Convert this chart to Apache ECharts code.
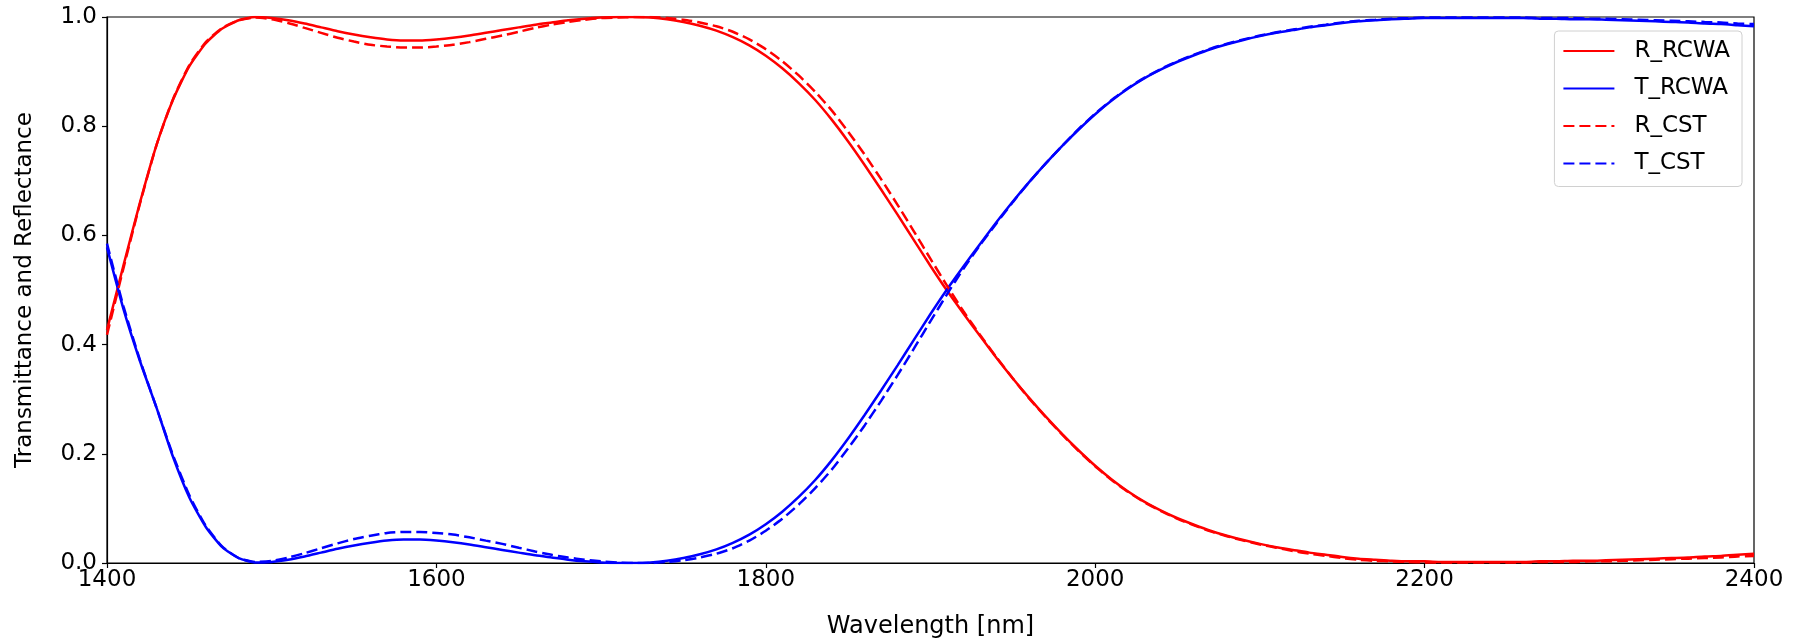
<!DOCTYPE html>
<html>
<head>
<meta charset="utf-8">
<script src="https://cdn.jsdelivr.net/npm/echarts@6/dist/echarts.min.js"></script>
<style>html,body{margin:0;padding:0;background:#fff}#c{width:1800px;height:639px}</style>
</head>
<body>
<div id="c"></div>
<script>
const wavelengths = [
1400,1410,1420,1430,1440,1450,1460,1470,1480,1490,
1500,1510,1520,1530,1540,1550,1560,1570,1580,1590,
1600,1610,1620,1630,1640,1650,1660,1670,1680,1690,
1700,1710,1720,1730,1740,1750,1760,1770,1780,1790,
1800,1810,1820,1830,1840,1850,1860,1870,1880,1890,
1900,1910,1920,1930,1940,1950,1960,1970,1980,1990,
2000,2010,2020,2030,2040,2050,2060,2070,2080,2090,
2100,2110,2120,2130,2140,2150,2160,2170,2180,2190,
2200,2210,2220,2230,2240,2250,2260,2270,2280,2290,
2300,2310,2320,2330,2340,2350,2360,2370,2380,2390,
2400];
const R_RCWA = [
0.427,0.545,0.660,0.765,0.848,0.910,0.952,0.979,0.994,1.000,
0.998,0.994,0.988,0.981,0.974,0.968,0.963,0.959,0.957,0.957,
0.959,0.962,0.966,0.971,0.976,0.981,0.986,0.990,0.994,0.997,
0.999,1.000,1.000,0.999,0.996,0.991,0.984,0.975,0.963,0.948,
0.929,0.906,0.879,0.848,0.812,0.772,0.729,0.684,0.638,0.591,
0.544,0.499,0.457,0.416,0.376,0.338,0.302,0.268,0.236,0.206,
0.178,0.153,0.131,0.112,0.096,0.082,0.070,0.059,0.050,0.042,
0.035,0.029,0.024,0.019,0.015,0.011,0.008,0.006,0.004,0.003,
0.003,0.002,0.002,0.002,0.002,0.002,0.002,0.003,0.003,0.004,
0.004,0.005,0.006,0.007,0.008,0.009,0.010,0.012,0.013,0.015,
0.017];
const T_RCWA = [
0.578,0.465,0.370,0.285,0.195,0.120,0.066,0.029,0.009,0.001,
0.002,0.006,0.012,0.019,0.026,0.032,0.037,0.041,0.043,0.043,
0.041,0.038,0.034,0.029,0.024,0.019,0.014,0.010,0.006,0.003,
0.001,0.000,0.000,0.001,0.004,0.009,0.016,0.025,0.037,0.052,
0.071,0.094,0.121,0.152,0.188,0.228,0.271,0.316,0.362,0.409,
0.456,0.501,0.543,0.584,0.624,0.662,0.698,0.732,0.764,0.794,
0.822,0.847,0.869,0.888,0.904,0.918,0.930,0.941,0.950,0.958,
0.965,0.971,0.976,0.981,0.985,0.989,0.992,0.994,0.996,0.997,
0.998,0.998,0.998,0.998,0.998,0.998,0.998,0.997,0.997,0.996,
0.996,0.995,0.994,0.993,0.992,0.991,0.990,0.988,0.987,0.985,
0.983];
const R_CST = [
0.418,0.540,0.658,0.765,0.849,0.912,0.954,0.980,0.994,0.999,
0.996,0.989,0.980,0.971,0.962,0.955,0.949,0.946,0.944,0.944,
0.946,0.949,0.954,0.960,0.966,0.973,0.980,0.986,0.991,0.995,
0.998,0.999,1.000,1.000,0.998,0.995,0.990,0.983,0.973,0.959,
0.941,0.919,0.893,0.863,0.829,0.790,0.748,0.703,0.656,0.607,
0.557,0.508,0.461,0.418,0.377,0.338,0.301,0.267,0.235,0.205,
0.177,0.152,0.130,0.111,0.095,0.081,0.069,0.058,0.049,0.041,
0.034,0.028,0.022,0.017,0.013,0.009,0.006,0.004,0.003,0.002,
0.001,0.001,0.001,0.001,0.001,0.001,0.001,0.002,0.002,0.002,
0.003,0.003,0.004,0.005,0.006,0.007,0.008,0.009,0.010,0.012,
0.013];
const T_CST = [
0.585,0.470,0.372,0.285,0.198,0.124,0.068,0.030,0.009,0.002,
0.004,0.010,0.018,0.027,0.036,0.044,0.050,0.055,0.057,0.057,
0.055,0.052,0.047,0.041,0.035,0.028,0.021,0.015,0.010,0.006,
0.003,0.001,0.000,0.000,0.002,0.005,0.010,0.017,0.027,0.041,
0.059,0.081,0.107,0.137,0.171,0.210,0.252,0.297,0.344,0.393,
0.443,0.492,0.539,0.582,0.622,0.661,0.698,0.732,0.764,0.795,
0.823,0.848,0.870,0.889,0.905,0.919,0.931,0.942,0.951,0.959,
0.966,0.972,0.977,0.982,0.986,0.990,0.993,0.995,0.997,0.998,
0.999,0.999,0.999,0.999,0.999,0.999,0.999,0.998,0.998,0.998,
0.997,0.997,0.996,0.995,0.994,0.993,0.992,0.991,0.990,0.988,
0.987];
const xTicks = [1400, 1600, 1800, 2000, 2200, 2400];
const yTicks = [0.0, 0.2, 0.4, 0.6, 0.8, 1.0];

function pairs(ys){ return wavelengths.map((w,i)=>[w, ys[i]]); }

const FONT = 'DejaVu Sans';
const chart = echarts.init(document.getElementById('c'), null, {renderer:'canvas'});
function mkSeries(name, ys, color, dashed){
  return {
    name, type:'line', data: pairs(ys), smooth: 0.2, symbol:'none', clip:true,
    lineStyle:{color, width:2.5, type: dashed ? [11,5] : 'solid'},
    itemStyle:{color}, emphasis:{disabled:true}, animation:false
  };
}
chart.setOption({
  animation:false,
  backgroundColor:'#fff',
  grid:{left:107, right:46, top:17, bottom:76, containLabel:false, outerBoundsMode:'none',
        show:true, borderColor:'#000', borderWidth:1.2, backgroundColor:'transparent'},
  xAxis:{
    type:'value', min:xTicks[0], max:xTicks[xTicks.length-1], interval:200,
    name:'Wavelength [nm]', nameLocation:'middle', nameGap:52,
    nameTextStyle:{fontFamily:FONT, fontSize:24, color:'#000'},
    axisLine:{show:true, lineStyle:{color:'#000', width:1.2}},
    axisTick:{show:true, length:5, lineStyle:{color:'#000', width:1.2}},
    axisLabel:{fontFamily:FONT, fontSize:23, color:'#000', margin:6, formatter:v=>String(v)},
    splitLine:{show:false}
  },
  yAxis:{
    type:'value', min:yTicks[0], max:yTicks[yTicks.length-1], interval:0.2,
    name:'Transmittance and Reflectance', nameLocation:'middle', nameGap:70,
    nameTextStyle:{fontFamily:FONT, fontSize:23, color:'#000'},
    axisLine:{show:true, lineStyle:{color:'#000', width:1.2}},
    axisTick:{show:true, length:5, lineStyle:{color:'#000', width:1.2}},
    axisLabel:{fontFamily:FONT, fontSize:23, color:'#000', margin:10, formatter:v=>v.toFixed(1)},
    splitLine:{show:false}
  },
  legend:{
    orient:'vertical', right:58, top:31,
    data:['R_RCWA','T_RCWA','R_CST','T_CST'],
    itemWidth:51, itemHeight:24, itemGap:13.5,
    padding:[8,12,11,8],
    itemStyle:{opacity:0},
    backgroundColor:'rgba(255,255,255,0.8)', borderColor:'#d0d0d0', borderWidth:1, borderRadius:4,
    textStyle:{fontFamily:FONT, fontSize:23, lineHeight:24, color:'#000', padding:[0,0,0,15]}
  },
  series:[
    mkSeries('R_RCWA', R_RCWA, '#ff0000', false),
    mkSeries('T_RCWA', T_RCWA, '#0000ff', false),
    mkSeries('R_CST', R_CST, '#ff0000', true),
    mkSeries('T_CST', T_CST, '#0000ff', true)
  ]
});
</script>
</body>
</html>
